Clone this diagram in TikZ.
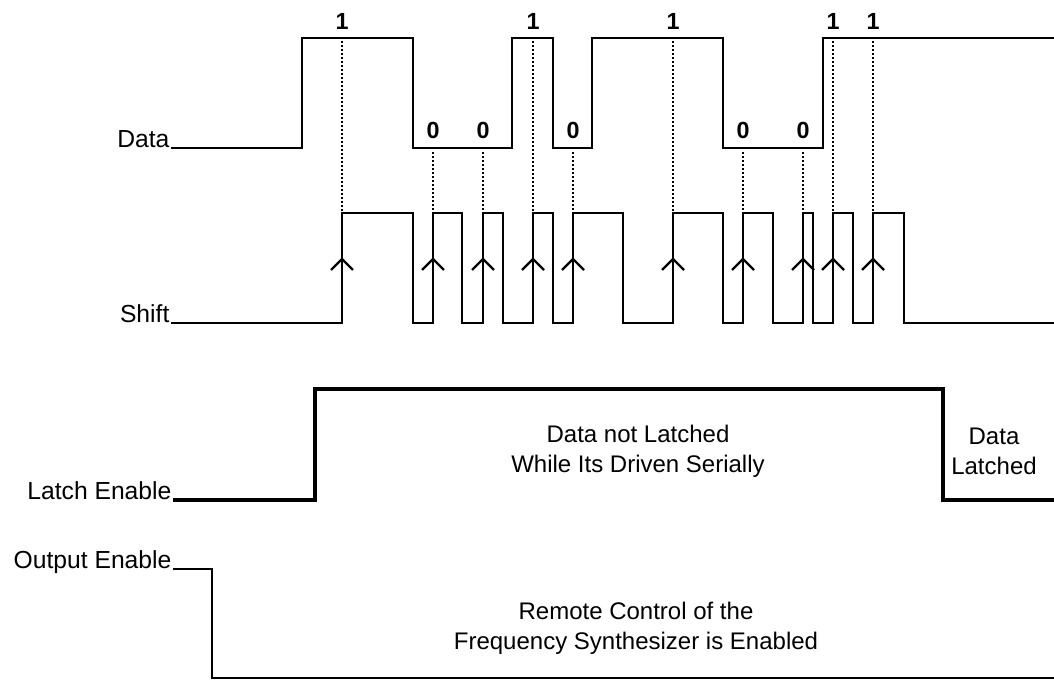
\documentclass[tikz,border=0pt]{standalone}
\usepackage{fontspec}
\setmainfont{Liberation Sans}
\usetikzlibrary{positioning}

\tikzset{
    sig/.style={line width=2.1pt, line join=miter},
    probe/.style={line width=1.8pt, dash pattern=on 1.5pt off 1.5pt},
    lbl/.style={font=\fontsize{18.5}{21}\selectfont, inner sep=1pt},
    bit/.style={font=\bfseries\fontsize{17.5}{19}\selectfont, inner sep=0pt},
    note/.style={font=\fontsize{18}{22.5}\selectfont, align=center, inner sep=0pt}
}

\begin{document}
\begin{tikzpicture}[x=0.75pt, y=-0.75pt]
        \useasboundingbox (0,0) rectangle (1054,680);

        % signal names
        \node[lbl, anchor=base east] (data) at (171,148) {Data};
        \node[lbl, anchor=base east] (shift) at (171,323) {Shift};
        \node[lbl, anchor=base east] (latch) at (173,500) {Latch Enable};
        \node[lbl, anchor=base east] (outen) at (173,569) {Output Enable};

        % data line
        \draw[sig] (data.base east) -- (302,148) -- (302,38) -- (413,38) -- (413,148)
            -- (512,148) -- (512,38) -- (553,38) -- (553,148)
            -- (592,148) -- (592,38) -- (723,38) -- (723,148)
            -- (823,148) -- (823,38) -- (1054,38);

        % shift clock
        \draw[sig] (shift.base east)
            foreach \r/\f in {342/413, 433/462, 483/503, 533/553, 573/623,
                              673/723, 743/773, 803/813, 833/853, 873/904}
            { -- (\r,323) -- (\r,213) -- (\f,213) -- (\f,323) }
            -- (1054,323);

        % rising edges
        \foreach \x in {342, 433, 483, 533, 573, 673, 743, 803, 833, 873}
            \draw[line width=1.8pt] (\x-11,270) -- (\x,259) -- (\x+11,270);

        % sampled bits
        \foreach \x in {342, 533, 673, 833, 873} {
            \draw[probe] (\x,41) -- (\x,211);
            \node[bit] (one\x) at (\x,21) {1};
        }
        \foreach \x in {433, 483, 573, 743, 803} {
            \draw[probe] (\x,152) -- (\x,211);
            \node[bit] (zero\x) at (\x,130) {0};
        }

        % latch enable
        \draw[sig, line width=2.5pt] (latch.base east) -- (315,500) -- (315,389)
            -- (943,389) -- (943,500) -- (1054,500);
        \node[note] (notlatched) at (638,451) {Data not Latched\\While Its Driven Serially};
        \node[note] (latched) at (994,451) {Data\\Latched};

        % output enable
        \draw[sig] (outen.base east) -- (212,569) -- (212,678) -- (1054,678);
        \node[note] (remote) at (636,628) {Remote Control of the\\Frequency Synthesizer is Enabled};
    \end{tikzpicture}
\end{document}
